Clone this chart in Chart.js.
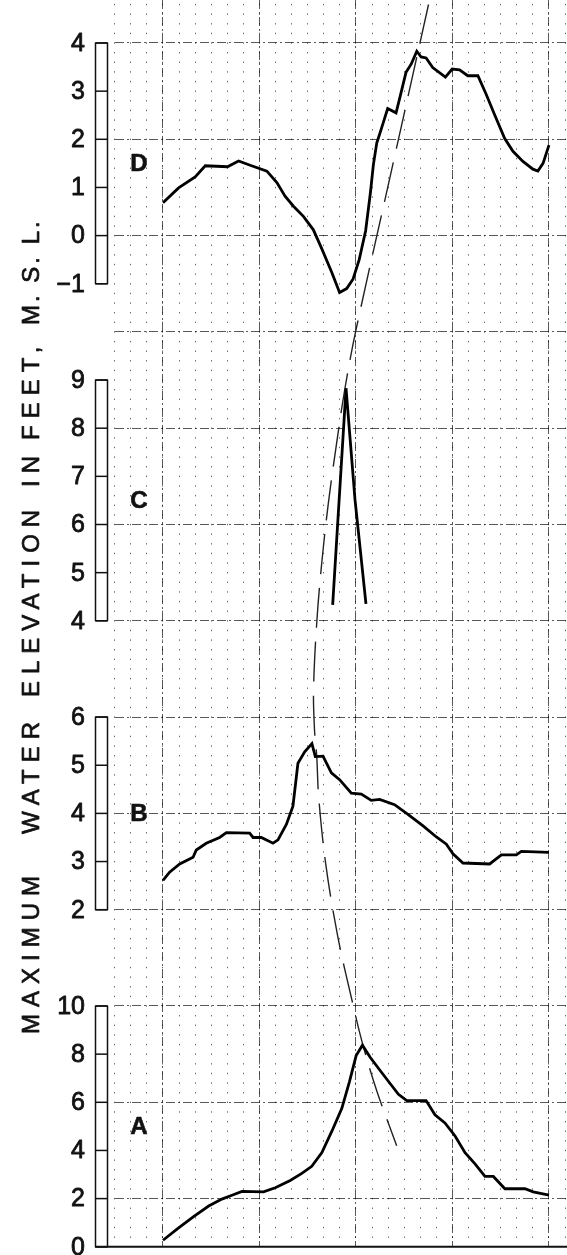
<!DOCTYPE html>
<html>
<head>
<meta charset="utf-8">
<title>Maximum water elevation profiles</title>
<script src="https://cdn.jsdelivr.net/npm/chart.js@4.4.1/dist/chart.umd.min.js"></script>
<style>
  html, body { margin: 0; padding: 0; background: #fff; }
  #wrap { position: relative; width: 567px; height: 1255px; }
</style>
</head>
<body>
<div id="wrap"><canvas id="profiles"></canvas></div>
<script>
// positions along the section, counted in small grid divisions
const dPos = [0, 0.97, 2.0, 2.63, 4.01, 4.7, 5.42, 6.46, 7.08, 7.59, 8.11, 8.73, 9.35, 9.87, 10.49, 10.98, 11.42, 11.82, 12.2, 12.6, 12.9, 13.08, 13.29, 13.56, 13.97, 14.49, 14.7, 15.11, 15.43, 15.78, 16.05, 16.36, 16.77, 17.56, 17.98, 18.44, 18.95, 19.58, 20.1, 20.62, 21.24, 21.76, 22.38, 23.0, 23.31, 23.63, 24.0];
const dElev = [0.68, 0.99, 1.22, 1.45, 1.43, 1.55, 1.46, 1.34, 1.10, 0.82, 0.61, 0.40, 0.12, -0.27, -0.76, -1.18, -1.1, -0.9, -0.5, 0.1, 0.9, 1.47, 1.92, 2.2, 2.64, 2.55, 2.83, 3.39, 3.56, 3.83, 3.71, 3.69, 3.49, 3.29, 3.46, 3.44, 3.32, 3.32, 2.93, 2.51, 2.02, 1.75, 1.54, 1.38, 1.34, 1.5, 1.88];

const cPos = [10.55, 11.38, 11.94, 12.62];
const cElev = [4.33, 8.83, 6.51, 4.35];

const bPos = [0, 0.41, 1.04, 1.87, 2.07, 2.69, 3.52, 3.94, 5.39, 5.6, 6.11, 6.84, 7.15, 7.67, 8.08, 8.39, 8.81, 9.26, 9.47, 9.95, 10.47, 10.98, 11.71, 12.33, 12.95, 13.47, 14.4, 15.23, 16.17, 17.0, 17.62, 18.03, 18.65, 20.31, 21.04, 21.97, 22.28, 24.0];
const bElev = [2.61, 2.78, 2.95, 3.09, 3.24, 3.38, 3.5, 3.6, 3.59, 3.5, 3.5, 3.38, 3.45, 3.77, 4.15, 5.04, 5.28, 5.45, 5.18, 5.19, 4.84, 4.7, 4.42, 4.4, 4.27, 4.29, 4.18, 3.98, 3.74, 3.51, 3.36, 3.16, 2.97, 2.95, 3.14, 3.14, 3.21, 3.19];

const aPos = [0, 0.97, 1.9, 2.84, 3.66, 4.29, 4.91, 6.25, 6.98, 7.91, 8.63, 9.25, 9.88, 10.5, 11.12, 11.59, 12.01, 12.22, 12.4, 12.88, 13.5, 14.12, 14.64, 15.16, 16.36, 16.91, 17.53, 18.16, 18.78, 19.4, 20.02, 20.54, 21.26, 22.5, 23.02, 24.0];
const aElev = [0.27, 0.78, 1.25, 1.69, 1.98, 2.14, 2.3, 2.28, 2.45, 2.75, 3.05, 3.34, 3.91, 4.8, 5.75, 6.85, 7.94, 8.17, 8.37, 7.87, 7.32, 6.78, 6.33, 6.07, 6.07, 5.48, 5.14, 4.6, 3.91, 3.44, 2.92, 2.92, 2.41, 2.41, 2.28, 2.14];

// dashed line joining the crests, in large sheet squares
const crestPos = [16.51, 14.24, 12.0, 11.32, 10.8, 10.28, 9.87, 9.56, 9.36, 9.42, 9.56, 9.68, 10.13, 10.88, 11.75, 12.39, 13.31, 14.53];
const crestLevel = [12.4, 10.7, 9.02, 8.42, 7.85, 7.22, 6.6, 5.98, 5.28, 4.87, 4.59, 4.17, 3.46, 2.71, 2.06, 1.62, 1.11, 0.55];

const dTicks = [4, 3, 2, 1, 0, -1];
const cTicks = [9, 8, 7, 6, 5, 4];
const bTicks = [6, 5, 4, 3, 2];
const aTicks = [10, 8, 6, 4, 2, 0];

const titleWords = ["MAXIMUM", "WATER", "ELEVATION", "IN", "FEET,", "M. S. L."];

const pts = (xs, ys) => xs.map((x, i) => ({ x: x, y: ys[i] }));

function profile(name, xs, ys, axis) {
    return {
        label: name,
        data: pts(xs, ys),
        yAxisID: axis,
        borderColor: "#000",
        borderWidth: 2.8,
        pointRadius: 0,
        tension: 0,
        fill: false,
    };
}

const panels = [
    { name: "D", axis: "yD", ticks: dTicks, letterAt: 1.5 },
    { name: "C", axis: "yC", ticks: cTicks, letterAt: 6.5 },
    { name: "B", axis: "yB", ticks: bTicks, letterAt: 4 },
    { name: "A", axis: "yA", ticks: aTicks, letterAt: 5 },
];

// where each title word starts (bottom end) and its letter spacing
const titleLayout = [[1034, 7], [834, 7], [697, 7], [487, 7], [440, 7], [325, 3]];

// fill plus a thin outline, to get the heavier lettering of the drawing
function heavyText(ctx, text, x, y, weight) {
    ctx.lineWidth = weight;
    ctx.strokeText(text, x, y);
    ctx.fillText(text, x, y);
}

const panelFrames = {
    id: "panelFrames",
    afterDraw(chart) {
        const ctx = chart.ctx;
        const xs = chart.scales.x;
        ctx.save();
        ctx.strokeStyle = "#111";
        ctx.fillStyle = "#111";
        ctx.lineJoin = "round";

        panels.forEach((p) => {
            const s = chart.scales[p.axis];
            const top = s.getPixelForValue(p.ticks[0]);
            const bottom = s.getPixelForValue(p.ticks[p.ticks.length - 1]);
            ctx.lineWidth = 1.5;
            ctx.strokeRect(95.5, top, 12, bottom - top);
            p.ticks.forEach((v) => {
                const y = s.getPixelForValue(v);
                ctx.lineWidth = 1.5;
                ctx.beginPath();
                ctx.moveTo(95.5, y);
                ctx.lineTo(107.5, y);
                ctx.stroke();
            });
            ctx.font = '25px "Liberation Sans", Arial, sans-serif';
            ctx.textAlign = "right";
            ctx.textBaseline = "middle";
            p.ticks.forEach((v) => {
                const y = s.getPixelForValue(v);
                heavyText(ctx, String(v).replace("-", "\u2212"), 85, y + 1, 0.8);
            });
            ctx.font = 'bold 24px "Liberation Sans", Arial, sans-serif';
            ctx.textAlign = "center";
            heavyText(ctx, p.name, xs.getPixelForValue(-1.5), s.getPixelForValue(p.letterAt) + 1, 0.6);
        });

        // base line of the lowest panel
        const yA = chart.scales.yA.getPixelForValue(0);
        ctx.lineWidth = 1.8;
        ctx.beginPath();
        ctx.moveTo(95, yA);
        ctx.lineTo(chart.chartArea.right, yA);
        ctx.stroke();

        // vertical axis title
        ctx.font = '24px "Liberation Sans", Arial, sans-serif';
        ctx.textAlign = "left";
        ctx.textBaseline = "alphabetic";
        titleWords.forEach((w, i) => {
            ctx.save();
            ctx.translate(38.5, titleLayout[i][0]);
            ctx.rotate(-Math.PI / 2);
            ctx.letterSpacing = titleLayout[i][1] + "px";
            heavyText(ctx, w, 0, 0, 0.7);
            ctx.restore();
        });
        ctx.restore();
    },
};

const hiddenTicks = { display: false, includeBounds: false, maxTicksLimit: 1000, autoSkip: false };

new Chart(document.getElementById("profiles"), {
    type: "line",
    data: {
        datasets: [
            profile("D", dPos, dElev, "yD"),
            profile("C", cPos, cElev, "yC"),
            profile("B", bPos, bElev, "yB"),
            profile("A", aPos, aElev, "yA"),
            {
                label: "crest line",
                data: pts(crestPos, crestLevel),
                yAxisID: "ySheet",
                borderColor: "#222",
                borderWidth: 1.4,
                borderDash: [40, 14],
                pointRadius: 0,
                tension: 0.35,
                fill: false,
            },
        ],
    },
    options: {
        responsive: true,
        maintainAspectRatio: false,
        animation: false,
        events: [],
        layout: { padding: { left: 114.75, right: 0, top: 0, bottom: 8 } },
        plugins: { legend: { display: false }, tooltip: { enabled: false } },
        scales: {
            x: {
                type: "linear", position: "bottom", min: -3, max: 25.12,
                ticks: { ...hiddenTicks, stepSize: 1 },
                grid: { color: "rgba(0,0,0,0.6)", lineWidth: 1, drawTicks: false },
                border: { display: false, dash: [1.4, 8.23], dashOffset: 5.8 },
            },
            xMajor: {
                type: "linear", position: "bottom", min: -3, max: 25.12,
                ticks: { ...hiddenTicks, stepSize: 6 },
                grid: { color: "rgba(0,0,0,0.65)", lineWidth: 1, drawTicks: false },
                border: { display: false, dash: [9, 3, 2, 3] },
            },
            ySheet: {
                type: "linear", position: "left", min: -0.5026, max: 12.4465,
                ticks: { ...hiddenTicks, stepSize: 1 },
                grid: { color: "rgba(0,0,0,0.65)", lineWidth: 1, drawTicks: false },
                border: { display: false, dash: [9, 3, 2, 3] },
            },
            yD: { type: "linear", display: false, min: -21.0052, max: 4.8931 },
            yC: { type: "linear", display: false, min: -9.0052, max: 16.8931 },
            yB: { type: "linear", display: false, min: -5.0052, max: 20.8931 },
            yA: { type: "linear", display: false, min: -0.0104, max: 51.786 },
        },
    },
    plugins: [panelFrames],
});
</script>
</body>
</html>
